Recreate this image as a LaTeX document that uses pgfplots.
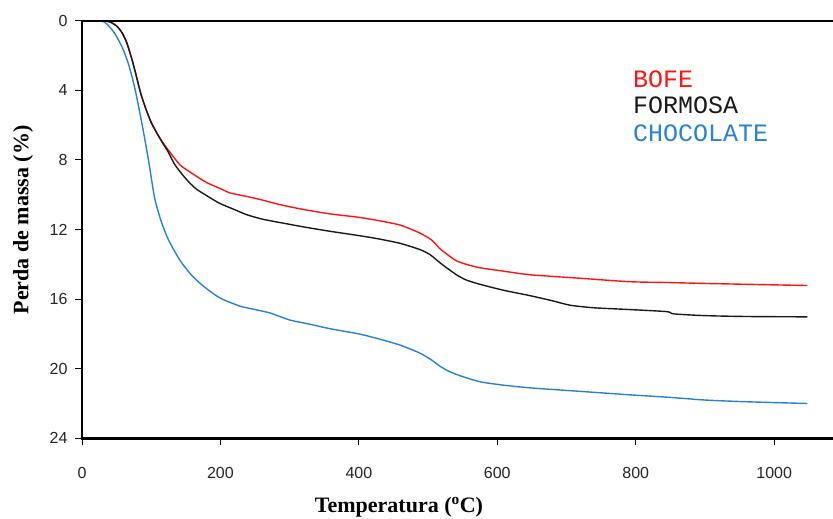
\documentclass[border=0pt]{standalone}
\usepackage{fontspec}
\setmainfont{Liberation Serif}
\newfontfamily\monof{Liberation Mono}
\newfontfamily\sansf{Liberation Sans}
\usepackage{pgfplots}
\pgfplotsset{compat=1.18}
\definecolor{cblue}{RGB}{40,130,210}
\definecolor{cred}{RGB}{255,20,20}
\definecolor{cblack}{RGB}{25,25,25}
\begin{document}
\begin{tikzpicture}[x=1pt,y=1pt]
\begin{axis}[
  at={(0,0)}, anchor=south west,
  scale only axis, width=751pt, height=417.6pt,
  xmin=0, xmax=1085, ymin=0, ymax=24, y dir=reverse,
  axis x line=box, axis y line=left,
  axis line style={black, -},
  clip=false,
  xtick={0,200,...,1000}, ytick={0,4,...,24},
  xtick pos=bottom, ytick pos=left,
  tick align=outside, major tick length=7pt,
  major tick style={line width=0.9pt, black},
  minor tick num=0,
  /pgf/number format/assume math mode=true,
  /pgf/number format/set thousands separator={},
  ticklabel style={font=\sansf\fontsize{16}{18}\selectfont, text=black!85},
  xticklabel style={anchor=center, yshift=-28pt},
  yticklabel style={anchor=east, xshift=-4pt},
  every axis plot/.append style={line width=1.4pt, mark=none, smooth, tension=0.4},
]
\addplot[cred] coordinates {
(28,0)(35,0.02)(42,0.1)(50,0.3)(58,0.7)(65,1.3)(72,2.2)(78,3.1)(85,4.2)(93,5.15)(100,5.85)(108,6.45)(116,6.95)(124,7.4)(142,8.3)(160,8.8)(180,9.3)(200,9.65)(214,9.9)(238,10.1)(260,10.3)(286,10.57)(320,10.85)(358,11.1)(400,11.3)(430,11.5)(460,11.75)(488,12.2)(505,12.6)(517,13.1)(530,13.5)(541,13.8)(555,14.0)(575,14.2)(610,14.4)(647,14.6)(719,14.8)(791,15.0)(850,15.05)(900,15.1)(960,15.15)(1048,15.22)
};
\addplot[cblack] coordinates {
(28,0)(35,0.02)(42,0.1)(50,0.3)(58,0.7)(65,1.3)(72,2.2)(78,3.1)(85,4.2)(93,5.15)(100,5.85)(108,6.45)(116,7.0)(124,7.5)(133,8.2)(142,8.7)(155,9.3)(166,9.7)(182,10.1)(199,10.5)(220,10.85)(238,11.15)(260,11.4)(286,11.6)(320,11.85)(358,12.1)(400,12.35)(430,12.55)(460,12.8)(488,13.15)(503,13.45)(520,14.0)(541,14.6)(555,14.9)(575,15.15)(610,15.5)(647,15.8)(680,16.1)(705,16.35)(740,16.5)(791,16.6)(845,16.72)(855,16.85)(900,16.95)(960,17.0)(1048,17.02)
};
\addplot[cblue] coordinates {
(28,0)(35,0.15)(45,0.6)(52,1.05)(60,1.7)(68,2.6)(77,4.0)(87,6.0)(96,8.0)(105,10.2)(115,11.6)(125,12.6)(142,13.8)(160,14.7)(180,15.4)(200,15.95)(228,16.4)(250,16.6)(272,16.8)(300,17.2)(330,17.45)(358,17.7)(400,18.0)(430,18.3)(460,18.65)(488,19.1)(505,19.5)(517,19.85)(530,20.15)(546,20.4)(575,20.75)(610,20.95)(647,21.1)(719,21.3)(791,21.5)(850,21.65)(900,21.8)(960,21.9)(1048,22.0)
};
\draw[line width=2.4pt, black, line cap=rect] (axis cs:0,0) -- (axis cs:1085,0);
\draw[line width=2.4pt, black, line cap=rect] (axis cs:0,24) -- (axis cs:1085,24);
\draw[line width=2.4pt, black, line cap=rect] (axis cs:0,0) -- (axis cs:0,24);
\node[anchor=base west, inner sep=0, text=cred, font=\monof\fontsize{25}{25}\selectfont] at (axis cs:796,3.82) {BOFE};
\node[anchor=base west, inner sep=0, text=cblack, font=\monof\fontsize{25}{25}\selectfont] at (axis cs:796,5.35) {FORMOSA};
\node[anchor=base west, inner sep=0, text=cblue, font=\monof\fontsize{25}{25}\selectfont] at (axis cs:796,6.94) {CHOCOLATE};
\end{axis}
\node[anchor=center, font=\bfseries\fontsize{22}{24}\selectfont] at (317,-68.7) {Temperatura (\textsuperscript{o}C)};
\node[anchor=center, rotate=90, font=\bfseries\fontsize{22}{24}\selectfont] at (-59,218.3) {Perda de massa (\%)};
\pgfresetboundingbox
\path[use as bounding box] (-82,-80.7) rectangle (751,438.3);
\end{tikzpicture}
\end{document}
